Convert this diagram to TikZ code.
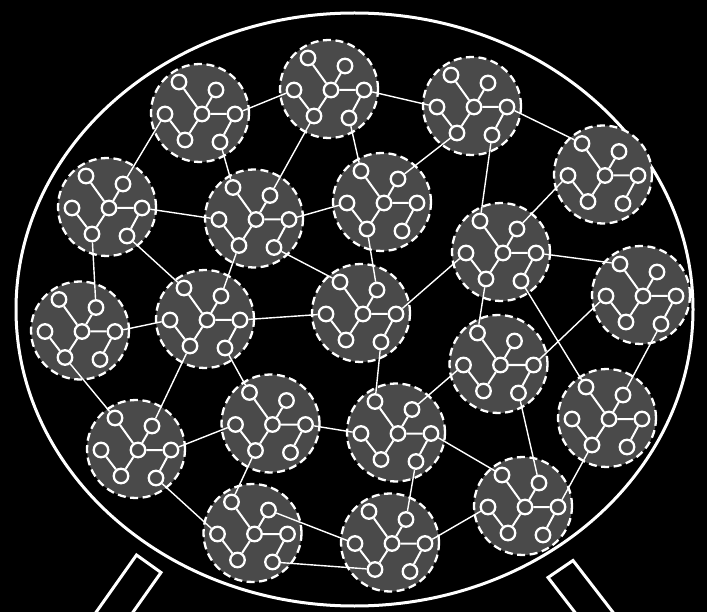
\documentclass[tikz,border=0pt]{standalone}
\pgfdeclarelayer{back}
\pgfdeclarelayer{mid}
\pgfsetlayers{back,mid,main}
\definecolor{cfill}{RGB}{74,74,74}
\tikzset{
  cluster/.style={circle, draw=white, dash pattern=on 8pt off 4.5pt, line width=2.3pt, fill=cfill, minimum size=98pt, inner sep=0pt},
  vert/.style={circle, draw=white, line width=2.3pt, fill=cfill, minimum size=14.5pt, inner sep=0pt},
  inner/.style={draw=white, line width=2pt},
  link/.style={draw=white, line width=1.4pt},
  frame/.style={draw=white, line width=3pt, line join=miter},
}
\begin{document}
\begin{tikzpicture}[x=1pt,y=-1pt]
\useasboundingbox (0,0) rectangle (707,612);
\begin{pgfonlayer}{back}
  \fill[black] (0,0) rectangle (707,612);
  \draw[frame] (354.5,309.5) ellipse [x radius=338.5, y radius=296.5];
\end{pgfonlayer}
% legs
\coordinate (lt) at (136.5,555);
\coordinate (lr) at (161,572.5);
\coordinate (lb1) at (78.8,636.7);
\coordinate (lb2) at (103.3,654.2);
\coordinate (rt) at (573,560.5);
\coordinate (rl) at (548,577.5);
\coordinate (rb1) at (634,639.5);
\coordinate (rb2) at (609,656.5);
\draw[frame] (lb1) -- (lt) -- (lr) -- (lb2);
\draw[frame] (rb1) -- (rt) -- (rl) -- (rb2);
% clusters
\foreach \n/\cx/\cy in {1/200/113, 2/329/89, 3/472/106, 4/603/174.5, 5/107/207,
  6/254/218.5, 7/382/202, 8/501/252, 9/641/295, 10/80/330.5, 11/205/319,
  12/361/313, 13/498.5/364, 14/607/418, 15/136/449, 16/270.5/423.5,
  17/396/432.5, 18/523/506, 19/252.5/533, 20/390/542.5}{
  \begin{pgfonlayer}{back}
    \node[cluster] (k\n) at (\cx,\cy) {};
  \end{pgfonlayer}
  \begin{scope}[shift={(\cx,\cy)}]
    \node[vert] (k\n-a) at (-21,-31) {};
    \node[vert] (k\n-b) at (16,-23) {};
    \node[vert] (k\n-c) at (-35,1) {};
    \node[vert] (k\n-d) at (2,1) {};
    \node[vert] (k\n-e) at (35,1) {};
    \node[vert] (k\n-f) at (-15,27) {};
    \node[vert] (k\n-g) at (20,29) {};
  \end{scope}
  \begin{pgfonlayer}{mid}
    \draw[inner] (k\n-d) -- (k\n-a) (k\n-d) -- (k\n-b) (k\n-d) -- (k\n-e)
      (k\n-c) -- (k\n-f) (k\n-f) -- (k\n-d) (k\n-e) -- (k\n-g);
  \end{pgfonlayer}
}
\begin{pgfonlayer}{mid}
\draw[link]
  (k1-e) -- (k2-c)   (k1-c) -- (k5-b)   (k1-g) -- (k6-a)
  (k2-f) -- (k6-b)   (k2-g) -- (k7-a)   (k2-e) -- (k3-c)
  (k3-e) -- (k4-a)   (k3-f) -- (k7-b)   (k3-g) -- (k8-a)
  (k4-c) -- (k8-b)   (k5-e) -- (k6-c)   (k5-f) -- (k10-b)
  (k5-g) -- (k11-a)  (k6-e) -- (k7-c)   (k6-f) -- (k11-b)
  (k6-g) -- (k12-a)  (k7-f) -- (k12-b)  (k8-c) -- (k12-e)
  (k8-e) -- (k9-a)   (k8-f) -- (k13-a)  (k8-g) -- (k14-a)
  (k9-c) -- (k13-e)  (k9-g) -- (k14-b)  (k10-e) -- (k11-c)
  (k10-f) -- (k15-a) (k11-e) -- (k12-c) (k11-f) -- (k15-b)
  (k11-g) -- (k16-a) (k12-g) -- (k17-a) (k13-c) -- (k17-b)
  (k13-g) -- (k18-b) (k14-f) -- (k18-e) (k15-e) -- (k16-c)
  (k15-g) -- (k19-c) (k16-e) -- (k17-c) (k16-f) -- (k19-a)
  (k17-e) -- (k18-a) (k17-g) -- (k20-b) (k19-b) -- (k20-c)
  (k19-g) -- (k20-f) (k20-e) -- (k18-c);
\end{pgfonlayer}
\end{tikzpicture}
\end{document}
